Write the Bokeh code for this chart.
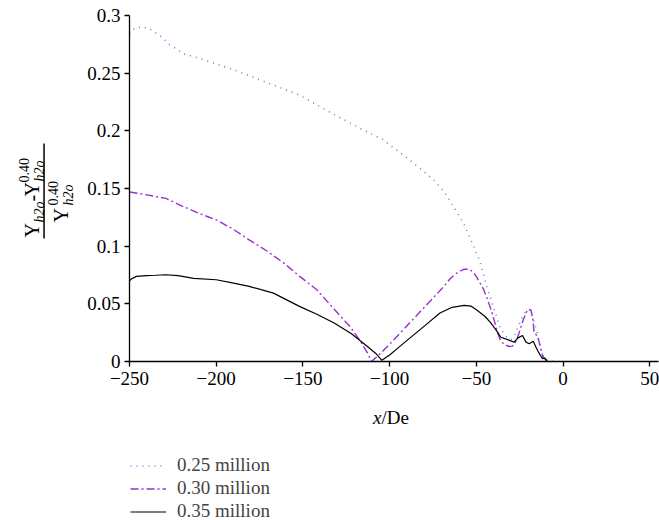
import math
from bokeh.plotting import figure
from bokeh.layouts import column, row
from bokeh.models import (Range1d, FixedTicker, CustomJSTickFormatter, Label,
                          Legend, LegendItem, BoxAnnotation)
from bokeh.embed import file_html
from bokeh.resources import INLINE

# ---------------- data ----------------
x_025 = [-250, -247, -243, -239, -235, -232, -227, -219, -210, -202, -190, -171, -152, -133,
         -113, -104, -98, -92, -86, -80, -74, -69, -65, -61, -57, -54, -51, -48, -44, -39,
         -36, -33, -30, -28, -26, -24, -21.5, -19.5, -17.5, -15.5, -12.7, -11, -9, -5, 0]
y_025 = [0.284, 0.289, 0.290, 0.289, 0.285, 0.282, 0.275, 0.267, 0.263, 0.259, 0.253, 0.242,
         0.231, 0.215, 0.199, 0.1925, 0.1855, 0.179, 0.1716, 0.1644, 0.1566, 0.148, 0.139,
         0.129, 0.1186, 0.1083, 0.098, 0.087, 0.065, 0.042, 0.028, 0.022, 0.019, 0.022,
         0.030, 0.037, 0.0435, 0.045, 0.039, 0.028, 0.010, 0.003, 0.001, 0.0, 0.0]

x_030 = [-250, -240, -229, -220, -210, -200, -190, -181, -171, -161, -152, -142, -133, -123,
         -117, -113, -110.5, -106, -100, -90, -80, -70, -65, -61, -57, -54, -51.5, -49.4,
         -46, -43.6, -40.5, -37.8, -36, -34, -31, -29.2, -27, -25.4, -23, -20.5, -18.6,
         -17.5, -16.7, -14.7, -13, -11.8, -9.9, -8]
y_030 = [0.147, 0.1445, 0.1414, 0.135, 0.1285, 0.1228, 0.1145, 0.1055, 0.096, 0.0853, 0.074,
         0.0622, 0.047, 0.0305, 0.018, 0.008, 0.0, 0.006, 0.015, 0.031, 0.047, 0.063, 0.072,
         0.077, 0.080, 0.080, 0.077, 0.072, 0.063, 0.054, 0.040, 0.025, 0.018, 0.0147, 0.013,
         0.0133, 0.018, 0.0248, 0.036, 0.045, 0.045, 0.037, 0.0248, 0.022, 0.012, 0.0046,
         0.001, 0.0]

x_035 = [-250, -249, -246, -240, -235, -229, -222, -213, -200, -190, -181, -167, -152, -142,
         -132, -122, -113, -108, -104.5, -100, -95, -87, -79, -71, -64, -57, -53, -49.4, -45,
         -41.7, -38.5, -35.9, -32, -28.2, -26, -23.4, -21.5, -19.6, -17.2, -15.5, -14.7, -13,
         -11.8, -10.5, -9, -5]
y_035 = [0.070, 0.0715, 0.0738, 0.0745, 0.0748, 0.0752, 0.0745, 0.072, 0.0709, 0.068, 0.0651,
         0.0593, 0.0478, 0.041, 0.0334, 0.024, 0.0132, 0.007, 0.001, 0.0057, 0.012, 0.022,
         0.032, 0.042, 0.047, 0.0486, 0.048, 0.0442, 0.039, 0.0335, 0.027, 0.021, 0.019,
         0.0167, 0.0205, 0.0225, 0.017, 0.0153, 0.0176, 0.012, 0.0096, 0.005, 0.0025, 0.003,
         0.0, 0.0]

series_names = ["0.25 million", "0.30 million", "0.35 million"]
x_ticks = [-250, -200, -150, -100, -50, 0, 50]
y_ticks = [0, 0.05, 0.1, 0.15, 0.2, 0.25, 0.3]

# ---------------- layout constants ----------------
FONT = "Liberation Serif"
W, H = 659, 520
LAB_W = 76            # width of the y-title strip
TOP_H = 395           # height of the row holding the plot
FRAME_L, FRAME_T, FRAME_B = 129, 15, 361
XMIN, XMAX, YMIN, YMAX = -250, 55, 0, 0.3

STYLES = [dict(line_color="#4a8fdc", line_width=1.6, line_dash="1 5"),
          dict(line_color="#9a2fd0", line_width=1.4, line_dash="8 3 2 3"),
          dict(line_color="black", line_width=1.2)]

# ---------------- main plot ----------------
p = figure(width=W - LAB_W, height=TOP_H, output_backend="svg", toolbar_location=None,
           x_range=Range1d(XMIN, XMAX), y_range=Range1d(YMIN, YMAX),
           min_border_left=FRAME_L - LAB_W, min_border_right=1,
           min_border_top=FRAME_T, min_border_bottom=TOP_H - FRAME_B)
p.outline_line_color = None
p.grid.visible = False

fmt = CustomJSTickFormatter(code="""
var v = Math.round(tick*1000)/1000;
var s = String(Math.abs(v));
return (v < 0 ? '\u2212' : '') + s;
""")
for ax, ticks in ((p.xaxis[0], x_ticks), (p.yaxis[0], y_ticks)):
    ax.ticker = FixedTicker(ticks=ticks)
    ax.formatter = fmt
    ax.major_label_text_font = FONT
    ax.major_label_text_font_size = "19px"
    ax.major_label_text_color = "black"
    ax.axis_line_color = "black"
    ax.axis_line_width = 1.3
    ax.major_tick_line_color = "black"
    ax.major_tick_line_width = 1.3
    ax.major_tick_out = 5
    ax.major_tick_in = 0
    ax.minor_tick_line_color = None
p.xaxis.major_label_standoff = 5
p.yaxis.major_label_standoff = 4

for xs, ys, st in zip((x_025, x_030, x_035), (y_025, y_030, y_035), STYLES):
    p.line(xs, ys, **st)

# ---------------- y-axis title strip ----------------
# its frame is aligned with the plot frame (canvas y 15..361); use canvas pixels
FH = FRAME_B - FRAME_T
yl = figure(width=LAB_W, height=TOP_H, output_backend="svg", toolbar_location=None,
            x_range=Range1d(0, LAB_W), y_range=Range1d(0, FH),
            x_axis_type=None, y_axis_type=None,
            min_border_left=0, min_border_right=0,
            min_border_top=FRAME_T, min_border_bottom=TOP_H - FRAME_B)
yl.outline_line_color = None
yl.grid.visible = False


def lab(fig, ybase, text, px, py, size, style="normal", angle=0.0, align="left"):
    fig.add_layout(Label(x=px, y=ybase - py, text=text, angle=angle,
                         text_font=FONT, text_font_size=f"{size}px", text_font_style=style,
                         text_align=align, text_baseline="alphabetic", text_color="black"))


A = math.pi / 2
lab(yl, FRAME_B, "Y", 31.5, 237, 20, angle=A)
lab(yl, FRAME_B, "h2o", 39, 222, 14, style="italic", angle=A)
lab(yl, FRAME_B, "-", 31.5, 201, 20, angle=A)
lab(yl, FRAME_B, "Y", 31.5, 196, 20, angle=A)
lab(yl, FRAME_B, "0.40", 23.5, 182, 14, angle=A)
lab(yl, FRAME_B, "h2o", 39, 181, 14, style="italic", angle=A)
lab(yl, FRAME_B, "Y", 60.5, 222, 20, angle=A)
lab(yl, FRAME_B, "0.40", 52.5, 205, 14, angle=A)
lab(yl, FRAME_B, "h2o", 68, 205, 14, style="italic", angle=A)
yl.add_layout(BoxAnnotation(left=42.8, right=44.3, top=FRAME_B - 143, bottom=FRAME_B - 238,
                            fill_color="black", fill_alpha=1, line_color=None))

# ---------------- bottom strip: x title + legend ----------------
BOT_H = H - TOP_H
lg = figure(width=W, height=BOT_H, output_backend="svg", toolbar_location=None,
            x_range=Range1d(0, W), y_range=Range1d(0, BOT_H),
            x_axis_type=None, y_axis_type=None,
            min_border_left=0, min_border_right=0, min_border_top=0, min_border_bottom=0)
lg.outline_line_color = None
lg.grid.visible = False

lab(lg, H, "x", 381, 417, 19, style="italic", align="right")
lab(lg, H, "/De", 381, 417, 19)

# legend samples (kept outside the visible range of this strip)
dummies = [lg.line([-50, -40], [-50, -50], **st) for st in STYLES]
ROW_H = 23
legend = Legend(items=[LegendItem(label=n, renderers=[r]) for n, r in zip(series_names, dummies)],
                location=(130, H - 453.5 - 3 * ROW_H), orientation="vertical",
                glyph_width=36, glyph_height=ROW_H, label_height=ROW_H, spacing=0,
                padding=0, margin=0, label_standoff=11,
                label_text_font=FONT, label_text_font_size="19px",
                border_line_color=None, background_fill_alpha=0)
lg.add_layout(legend, "center")

layout = column(row(yl, p, spacing=0), lg, spacing=0)
open("out.html", "w").write(file_html(layout, INLINE))
